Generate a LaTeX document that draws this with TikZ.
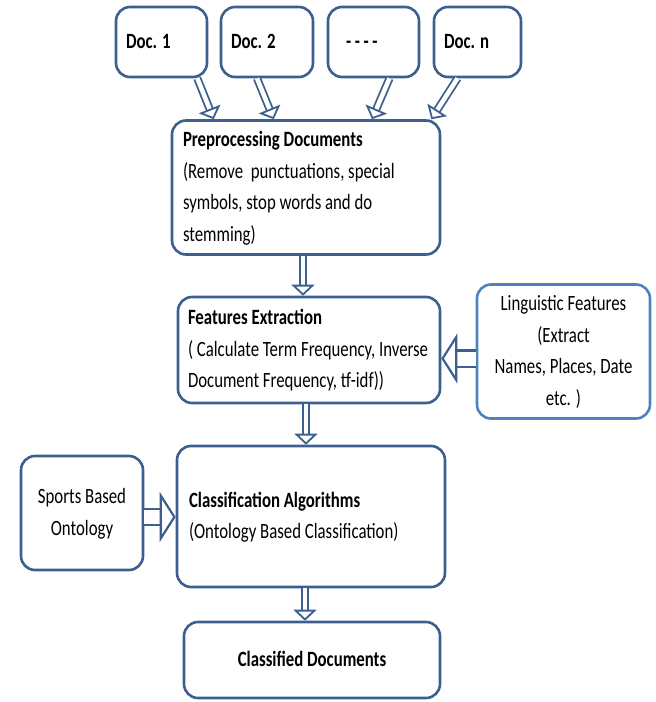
\documentclass[tikz,border=0pt]{standalone}
\usepackage{fontspec}
\setmainfont{Carlito}[FakeStretch=0.77]
\usetikzlibrary{arrows.meta}
\definecolor{bord}{HTML}{3B5F8E}
\definecolor{lbord}{HTML}{4F81BD}
\newcommand{\leftlines}[1]{\spaceskip=0pt\xspaceskip=0pt\begin{tabular}{@{}l@{}}#1\end{tabular}}
\newcommand{\midlines}[1]{\spaceskip=0pt\xspaceskip=0pt\begin{tabular}{@{}c@{}}#1\end{tabular}}
\tikzset{
  box/.style={draw=bord, line width=2.6pt, rounded corners=14pt, inner xsep=10pt, inner ysep=4pt,
    font=\fontsize{21.8}{31.5}\selectfont},
  docbox/.style={box, minimum height=70pt, font=\fontsize{21.8}{31}\selectfont\bfseries},
  flow/.style={draw=bord, line width=1.8pt, double=white, double distance=4.5pt,
    -{Triangle[open, length=11pt, width=23pt]}},
  bigflow/.style={draw=bord, line width=2.2pt, double=white, double distance=14pt,
    -{Triangle[open, length=16pt, width=50pt]}},
}
\begin{document}
\begin{tikzpicture}[x=1pt,y=-1pt]
\useasboundingbox (0,0) rectangle (656,702);
% input documents
\node[docbox, minimum width=89pt, text width=71pt] (d1) at (161.5,42) {\leftlines{Doc. 1}};
\node[docbox, minimum width=90pt, text width=72pt] (d2) at (267,42) {\leftlines{Doc. 2}};
\node[docbox, minimum width=89pt, text width=71pt] (d3) at (373.5,42) {\leftlines{\hspace{8pt}{-}\,{-}\,{-}\,{-}}};
\node[docbox, minimum width=85pt, text width=67pt] (dn) at (477.5,42) {\leftlines{Doc. n}};
% processing steps
\node[box, minimum width=268pt, minimum height=129pt, text width=246pt] (prep) at (306,187.5)
  {\leftlines{\textbf{Preprocessing Documents}\\(Remove\ \ punctuations, special\\symbols, stop words and do\\stemming)}};
\node[box, minimum width=262pt, minimum height=106pt, text width=242pt] (feat) at (309,350)
  {\leftlines{\textbf{Features Extraction}\\( Calculate Term Frequency, Inverse\\Document Frequency, tf-idf))}};
\node[box, draw=lbord, minimum width=173pt, minimum height=129pt] (ling) at (563.5,351.5)
  {\midlines{Linguistic Features\\(Extract\\Names, Places, Date\\etc. )}};
\node[box, minimum width=268pt, minimum height=141pt, text width=244pt] (cls) at (311,516.5)
  {\leftlines{\textbf{Classification Algorithms}\\(Ontology Based Classification)}};
\node[box, minimum width=122pt, minimum height=114pt] (onto) at (82,513)
  {\midlines{Sports Based\\Ontology}};
\node[box, minimum width=256pt, minimum height=76pt, font=\fontsize{21.8}{31}\selectfont\bfseries] (out) at (312,660)
  {\midlines{Classified Documents}};
% connectors
\draw[flow] ([xshift=-11pt]d1.south east) -- ([xshift=43pt]prep.north west);
\draw[flow] ([xshift=-10pt]d2.south) -- ([xshift=103pt]prep.north west);
\draw[flow] ([xshift=16pt]d3.south) -- ([xshift=66pt]prep.north);
\draw[flow] ([xshift=-20pt]dn.south) -- ([xshift=-10pt]prep.north east);
\draw[flow] ([xshift=-3pt]prep.south) -- ([xshift=-3pt]prep.south |- feat.north);
\draw[flow] ([xshift=-3pt]feat.south) -- ([xshift=-3pt]feat.south |- cls.north);
\draw[flow] ([xshift=-6pt]cls.south) -- ([xshift=-6pt]cls.south |- out.north);
\draw[bigflow] ([yshift=-7pt]ling.west) -- ([yshift=-7pt]ling.west -| feat.east);
\draw[bigflow] ([yshift=-4pt]onto.east) -- ([yshift=-4pt]onto.east -| cls.west);
\end{tikzpicture}
\end{document}
